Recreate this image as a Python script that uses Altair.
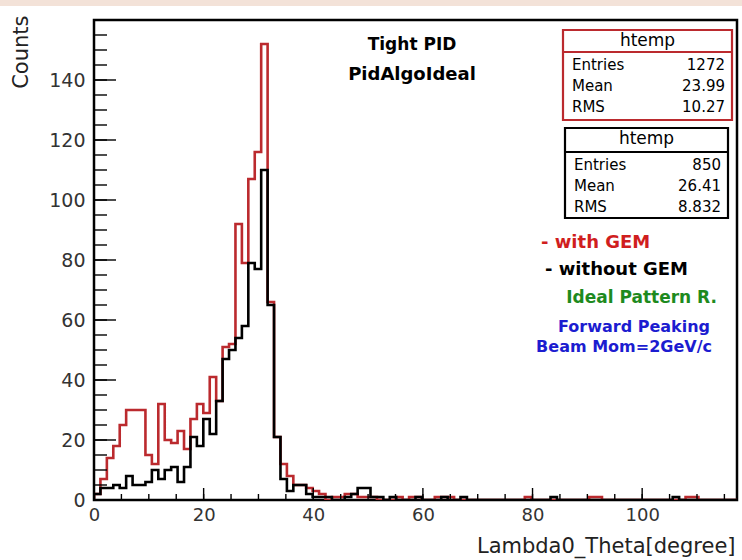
import altair as alt
import pandas as pd

# ---- histogram definition (ROOT htemp, 100 bins) ----
X_MIN, X_MAX, N_BINS = 0.0, 117.3, 100

with_gem = [
    2, 7, 14, 18, 25, 30, 30, 30, 15, 12,
    32, 20, 19, 23, 17, 27, 32, 29, 41, 33,
    51, 52, 92, 79, 107, 116, 152, 66, 21, 12,
    8, 5, 5, 4, 3, 2, 0, 1, 1, 2,
    2, 1, 1, 1, 0, 0, 0, 1, 0, 1,
    1, 0, 0, 1, 1, 1, 0, 0, 0, 0,
    0, 0, 0, 0, 0, 0, 0, 1, 0, 0,
    0, 0, 0, 0, 0, 0, 0, 1, 1, 0,
    0, 0, 0, 0, 0, 0, 0, 0, 0, 0,
    0, 0, 1, 1, 0, 0, 0, 0, 0, 0,
]
without_gem = [
    2, 4, 4, 5, 4, 8, 5, 5, 6, 10,
    7, 10, 11, 6, 11, 21, 18, 27, 22, 33,
    47, 50, 54, 58, 79, 77, 110, 65, 21, 7,
    3, 5, 5, 2, 1, 1, 1, 0, 0, 1,
    2, 4, 4, 1, 1, 0, 1, 0, 0, 0,
    1, 0, 0, 0, 1, 0, 0, 1, 0, 0,
    0, 0, 0, 0, 0, 0, 0, 0, 0, 0,
    0, 1, 0, 0, 0, 0, 0, 0, 0, 0,
    0, 0, 0, 0, 0, 0, 0, 0, 0, 0,
    1, 0, 0, 0, 0, 0, 0, 0, 0, 0,
]

x_labels = [0, 20, 40, 60, 80, 100]
x_minor = [v for v in range(0, 116, 5)]
y_labels = [0, 20, 40, 60, 80, 100, 120, 140]
y_minor = [v for v in range(0, 156, 5)]
Y_MAX = 160

stats_names = ["Entries", "Mean", "RMS"]
stats_with = ["1272", "23.99", "10.27"]
stats_without = ["850", "26.41", "8.832"]

RED = "#bb2a2e"
FONT = "DejaVu Sans"

bw = (X_MAX - X_MIN) / N_BINS


def step_frame(vals):
    rows = [dict(x=X_MIN, y=0, o=0)]
    for i, v in enumerate(vals):
        rows.append(dict(x=X_MIN + i * bw, y=v, o=i + 1))
    rows.append(dict(x=X_MAX, y=0, o=len(vals) + 1))
    return pd.DataFrame(rows)


x_scale = alt.Scale(domain=[X_MIN, X_MAX], nice=False, zero=False)
y_scale = alt.Scale(domain=[0, Y_MAX], nice=False)

x_axis = alt.Axis(values=x_labels, ticks=False, tickSize=0, domain=False, grid=False,
                  labelFont=FONT, labelFontSize=18, labelColor="#333", labelPadding=6,
                  labelFlush=False, labelOverlap=False,
                  title="Lambda0_Theta[degree]", titleFont=FONT, titleFontSize=21,
                  titleFontWeight="normal", titleColor="#222", titleAnchor="end",
                  titleAlign="right", titleX=641, titleY=52, titleBaseline="alphabetic")
y_axis = alt.Axis(values=y_labels, ticks=False, tickSize=0, domain=False, grid=False,
                  labelFont=FONT, labelFontSize=19, labelColor="#333", labelPadding=9,
                  labelOverlap=False,
                  title="Counts", titleFont=FONT, titleFontSize=21, titleFontWeight="normal",
                  titleColor="#222", titleAngle=270, titleAlign="right",
                  titleBaseline="middle", titleX=-73, titleY=-5)


def X(field):
    return alt.X(field, scale=x_scale, axis=x_axis)


def Y(field):
    return alt.Y(field, scale=y_scale, axis=y_axis)


red_line = alt.Chart(step_frame(with_gem)).mark_line(
    interpolate="step-after", color=RED, strokeWidth=2.6, clip=True
).encode(x=X("x:Q"), y=Y("y:Q"), order="o:Q")

black_line = alt.Chart(step_frame(without_gem)).mark_line(
    interpolate="step-after", color="black", strokeWidth=2.6, clip=True
).encode(x=X("x:Q"), y=Y("y:Q"), order="o:Q")

# inward ticks (ROOT style)
y_major_t = alt.Chart(pd.DataFrame({"v": y_labels})).mark_rule(color="black", strokeWidth=1.4).encode(
    y=Y("v:Q"), x=alt.value(0), x2=alt.value(22))
y_minor_t = alt.Chart(pd.DataFrame({"v": y_minor})).mark_rule(color="black", strokeWidth=1.4).encode(
    y=Y("v:Q"), x=alt.value(0), x2=alt.value(13))
x_major_t = alt.Chart(pd.DataFrame({"v": x_labels})).mark_rule(color="black", strokeWidth=1.4).encode(
    x=X("v:Q"), y=alt.value(480), y2=alt.value(468))
x_minor_t = alt.Chart(pd.DataFrame({"v": x_minor})).mark_rule(color="black", strokeWidth=1.4).encode(
    x=X("v:Q"), y=alt.value(480), y2=alt.value(474))


def text_layer(txt, x, y, color="black", size=17, weight="bold", align="center", font=FONT):
    return alt.Chart(pd.DataFrame({"t": [txt]})).mark_text(
        align=align, baseline="middle", font=font, fontSize=size, fontWeight=weight, color=color
    ).encode(text="t:N", x=alt.value(x), y=alt.value(y))


annotations = [
    text_layer("Tight PID", 318, 25),
    text_layer("PidAlgoIdeal", 318, 55, size=18),
    text_layer("- with GEM", 447, 223, color="#d01e1e", size=18, align="left"),
    text_layer("- without GEM", 451, 250, size=18, align="left"),
    text_layer("Ideal Pattern R.", 623, 278, color="#1e8a1e", size=17, align="right"),
    text_layer("Forward Peaking", 540, 307, color="#1c1cd0", size=16),
    text_layer("Beam Mom=2GeV/c", 618, 327, color="#1c1cd0", size=16, align="right"),
]


def stats_box(x0, x1, y0, y1, ysep, yhead, rows_y, values, stroke):
    one = pd.DataFrame({"a": [0]})
    box = alt.Chart(one).mark_rect(fill="white", stroke=stroke, strokeWidth=2.2).encode(
        x=alt.value(x0), x2=alt.value(x1), y=alt.value(y0), y2=alt.value(y1))
    sep = alt.Chart(one).mark_rule(color=stroke, strokeWidth=2).encode(
        x=alt.value(x0), x2=alt.value(x1), y=alt.value(ysep))
    head = alt.Chart(pd.DataFrame({"t": ["htemp"]})).mark_text(
        align="center", baseline="middle", font=FONT, fontSize=17, color="black"
    ).encode(text="t:N", x=alt.value((x0 + x1) / 2), y=alt.value(yhead))
    layers = [box, sep, head]
    for name, val, yy in zip(stats_names, values, rows_y):
        layers.append(alt.Chart(pd.DataFrame({"t": [name]})).mark_text(
            align="left", baseline="middle", font=FONT, fontSize=15, color="black"
        ).encode(text="t:N", x=alt.value(x0 + 9), y=alt.value(yy)))
        layers.append(alt.Chart(pd.DataFrame({"t": [val]})).mark_text(
            align="right", baseline="middle", font=FONT, fontSize=15, color="black"
        ).encode(text="t:N", x=alt.value(x1 - 7), y=alt.value(yy)))
    return layers


box_red = stats_box(469, 638, 10, 100, 32, 21, [45, 66, 87], stats_with, RED)
box_black = stats_box(471, 634, 108, 198, 132, 119, [145, 166, 187], stats_without, "black")

top_band = alt.Chart(pd.DataFrame({"a": [0]})).mark_rect(fill="#f3e2d8").encode(
    x=alt.value(-94), x2=alt.value(648), y=alt.value(-20), y2=alt.value(-14))

chart = alt.layer(
    red_line, black_line, y_major_t, y_minor_t, x_major_t, x_minor_t,
    *annotations, *box_red, *box_black, top_band
).properties(
    width=643, height=480,
    autosize=alt.AutoSizeParams(type="none"),
    padding={"left": 94, "top": 20, "right": 5, "bottom": 60},
    background="white",
).configure_view(stroke="black", strokeWidth=2.5)

chart.save("out.html", embed_options={"renderer": "svg", "actions": False})
